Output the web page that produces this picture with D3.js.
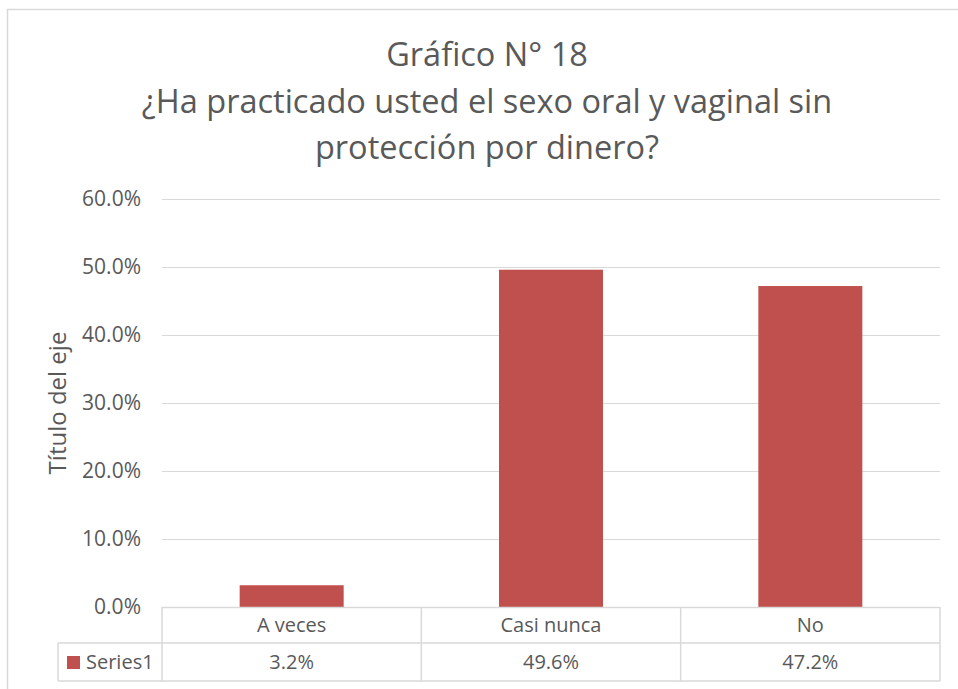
<!DOCTYPE html>
<html>
<head>
<meta charset="utf-8">
<script src="https://cdn.jsdelivr.net/npm/d3@7"></script>
<style>
  body { margin: 0; background: #fff; }
  text { font-family: "Open Sans", "Noto Sans", sans-serif; fill: #595959; }
</style>
</head>
<body>
<svg id="chart" width="958" height="689"></svg>
<script>
var categories = ["A veces", "Casi nunca", "No"],
    values = [0.032, 0.496, 0.472],
    valueLabels = ["3.2%", "49.6%", "47.2%"],
    yTicks = [0, 0.1, 0.2, 0.3, 0.4, 0.5, 0.6],
    seriesName = "Series1",
    titleLines = ["Gráfico N° 18", "¿Ha practicado usted el sexo oral y vaginal sin", "protección por dinero?"];

var svg = d3.select("#chart"),
    margin = {top: 199, right: 18, bottom: 82, left: 162},
    width = +svg.attr("width") - margin.left - margin.right,
    height = +svg.attr("height") - margin.top - margin.bottom,
    g = svg.append("g").attr("transform", "translate(" + margin.left + "," + margin.top + ")");

var gridColor = "#d9d9d9",
    barColor = "#c0504d";

// outer chart border
svg.append("path")
    .attr("d", "M7.5,689 V9.5 H958")
    .attr("fill", "none")
    .attr("stroke", gridColor)
    .attr("stroke-width", 1.5);

// title
svg.append("g").selectAll("text")
    .data(titleLines)
  .enter().append("text")
    .attr("x", 487)
    .attr("y", function(d, i) { return 66 + i * 46.5; })
    .attr("text-anchor", "middle")
    .style("font-size", "32.5px")
    .text(function(d) { return d; });

var x = d3.scaleBand()
    .domain(categories)
    .range([0, width])
    .paddingInner(0)
    .paddingOuter(0);

var y = d3.scaleLinear()
    .domain([0, 0.6])
    .range([height, 0]);

// gridlines
g.append("g")
    .selectAll("line")
    .data(yTicks)
  .enter().append("line")
    .attr("x1", 0)
    .attr("x2", width)
    .attr("y1", function(d) { return Math.round(y(d)) + 0.5; })
    .attr("y2", function(d) { return Math.round(y(d)) + 0.5; })
    .attr("stroke", gridColor)
    .attr("stroke-width", 1.2);

// y axis labels
var yAxis = g.append("g")
    .call(d3.axisLeft(y).tickValues(yTicks).tickFormat(d3.format(".1%")).tickSize(0).tickPadding(21));
yAxis.select(".domain").remove();
yAxis.selectAll("text")
    .style("font-size", "21px")
    .style("font-family", "'Open Sans', sans-serif")
    .attr("fill", "#595959");

// axis title
svg.append("text")
    .attr("transform", "translate(66," + (margin.top + height / 2) + ") rotate(-90)")
    .attr("text-anchor", "middle")
    .style("font-size", "24px")
    .text("Título del eje");

// bars
var bw = 104;
g.append("g")
    .selectAll("rect")
    .data(values)
  .enter().append("rect")
    .attr("x", function(d, i) { return x(categories[i]) + x.bandwidth() / 2 - bw / 2; })
    .attr("y", function(d) { return y(d); })
    .attr("width", bw)
    .attr("height", function(d) { return height - y(d); })
    .attr("fill", barColor);

// data table
var rowH1 = 36, rowH2 = 38, legendX = 58;
var table = g.append("g").attr("transform", "translate(0," + height + ")");

table.append("g")
    .selectAll("line")
    .data(categories.map(function(c) { return x(c); }).concat([width]))
  .enter().append("line")
    .attr("x1", function(d) { return d; })
    .attr("x2", function(d) { return d; })
    .attr("y1", 0)
    .attr("y2", rowH1 + rowH2)
    .attr("stroke", gridColor)
    .attr("stroke-width", 1.5);

table.append("line")
    .attr("x1", 0).attr("x2", width)
    .attr("y1", 0.5).attr("y2", 0.5)
    .attr("stroke", gridColor).attr("stroke-width", 1.5);

table.append("line")
    .attr("x1", legendX - margin.left).attr("x2", width)
    .attr("y1", rowH1).attr("y2", rowH1)
    .attr("stroke", gridColor).attr("stroke-width", 1.5);

table.append("line")
    .attr("x1", legendX - margin.left).attr("x2", width)
    .attr("y1", rowH1 + rowH2).attr("y2", rowH1 + rowH2)
    .attr("stroke", gridColor).attr("stroke-width", 1.5);

table.append("line")
    .attr("x1", legendX - margin.left).attr("x2", legendX - margin.left)
    .attr("y1", rowH1).attr("y2", rowH1 + rowH2)
    .attr("stroke", gridColor).attr("stroke-width", 1.5);

table.append("g")
    .selectAll("text")
    .data(categories)
  .enter().append("text")
    .attr("x", function(d) { return x(d) + x.bandwidth() / 2; })
    .attr("y", rowH1 / 2 + 7)
    .attr("text-anchor", "middle")
    .style("font-size", "20px")
    .text(function(d) { return d; });

table.append("g")
    .selectAll("text")
    .data(valueLabels)
  .enter().append("text")
    .attr("x", function(d, i) { return x(categories[i]) + x.bandwidth() / 2; })
    .attr("y", rowH1 + rowH2 / 2 + 7)
    .attr("text-anchor", "middle")
    .style("font-size", "20px")
    .text(function(d) { return d; });

// legend key
table.append("rect")
    .attr("x", 67 - margin.left)
    .attr("y", rowH1 + 13)
    .attr("width", 13)
    .attr("height", 13)
    .attr("fill", barColor);

table.append("text")
    .attr("x", 86 - margin.left)
    .attr("y", rowH1 + rowH2 / 2 + 7)
    .style("font-size", "20px")
    .text(seriesName);
</script>
</body>
</html>
